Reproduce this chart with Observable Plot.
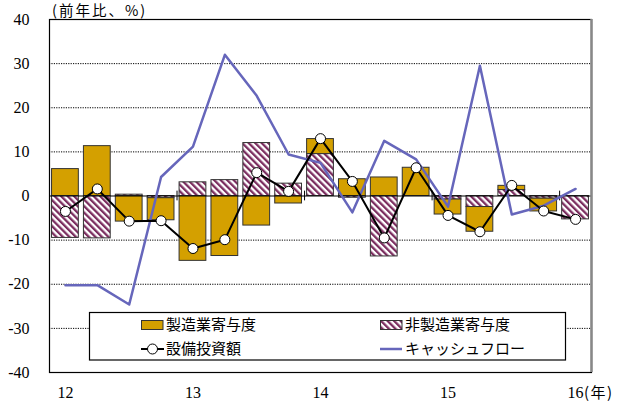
<!DOCTYPE html>
<html><head><meta charset="utf-8">
<script src="https://cdn.jsdelivr.net/npm/d3@7"></script>
<script src="https://cdn.jsdelivr.net/npm/@observablehq/plot@0.6"></script>
<style>body{margin:0;background:#fff} #chart svg{display:block}</style>
</head><body>
<svg width="0" height="0" style="position:absolute"><defs>
<pattern id="hatch" patternUnits="userSpaceOnUse" width="4.6" height="4.6" patternTransform="rotate(-45)">
<rect width="4.6" height="4.6" fill="#fff"/><rect width="2.3" height="4.6" fill="#7b2d5f"/></pattern></defs></svg>
<div id="chart"></div>
<script>
const quarters = ["2012Q1","2012Q2","2012Q3","2012Q4","2013Q1","2013Q2","2013Q3","2013Q4",
  "2014Q1","2014Q2","2014Q3","2014Q4","2015Q1","2015Q2","2015Q3","2015Q4","2016Q1"];
const tickLabels = ["12","","","","13","","","","14","","","","15","","","","16"];
const mfg     = [6.1, 11.3, -5.8, -5.0, -14.7, -13.6, -6.7, -1.7, 3.4, 3.8, 4.2, 6.4, -3.4, -5.6, 0.95, -2.9, 0];
const nonMfg  = [-9.5, -9.6, 0.3, -0.5, 3.1, 3.6, 12.0, 2.8, 9.5, -0.4, -13.7, 0, -0.8, -2.5, 1.35, -0.6, -5.3];
const capex   = [-3.5, 1.6, -5.7, -5.6, -11.9, -9.9, 5.3, 1.05, 13.0, 3.3, -9.5, 6.4, -4.4, -8.1, 2.4, -3.4, -5.3];
const cashFlow= [-20.2, -20.2, -24.6, 4.3, 11.2, 32.0, 22.7, 9.4, 7.5, -3.7, 12.5, 8.3, -2.4, 29.5, -4.2, -2.2, 1.6];
const yTicks = [-40,-30,-20,-10,0,10,20,30,40];
const gridValues = [-30,-20,-10,10,20,30];
const seriesNames = ["非製造業寄与度","製造業寄与度"];
const gold = "#d4a000", hatch = "url(#hatch)", cfColor = "#6666bb";

const barRows = quarters.flatMap((q,i)=>[
  {q, series: seriesNames[0], v: nonMfg[i]},
  {q, series: seriesNames[1], v: mfg[i]}
]);
const capexRows = quarters.map((q,i)=>({q, v: capex[i]}));
const cfRows = quarters.map((q,i)=>({q, v: cashFlow[i]}));
const yearStarts = quarters.filter((q,i)=> i>0 && q.endsWith("Q1"));

const W = 629, H = 401, mL = 49, mR = 38, mT = 19, mB = 29;
const step = (W - mL - mR) / quarters.length;

const chart = Plot.plot({
  width: W, height: H,
  marginLeft: mL, marginRight: mR, marginTop: mT, marginBottom: mB,
  style: {fontFamily: "'Liberation Serif', serif", fontSize: "16px", background: "white", color: "black"},
  x: {type: "band", domain: quarters, paddingInner: 0.16, paddingOuter: 0.08, round: false,
      tickSize: 0, tickPadding: 14, tickFormat: (d) => tickLabels[quarters.indexOf(d)], label: null},
  y: {domain: [-40, 40], ticks: yTicks, tickSize: 0, tickPadding: 20, tickFormat: d => String(d), label: null},
  color: {domain: [seriesNames[1], seriesNames[0]], range: [gold, hatch]},
  marks: [
    Plot.ruleY(gridValues, {stroke: "black", strokeWidth: 1, strokeDasharray: "1.2,1.2"}),
    Plot.barY(barRows, Plot.stackY({x: "q", y: "v", z: "series", fill: "series", stroke: "#333", strokeWidth: 1})),
    Plot.ruleY([0], {stroke: "black", strokeWidth: 1.2}),
    Plot.ruleX(yearStarts, {x: d => d, y1: -1.1, y2: 1.1, dx: -step/2, stroke: "black", strokeWidth: 1}),
    Plot.line(cfRows, {x: "q", y: "v", stroke: cfColor, strokeWidth: 2.5}),
    Plot.line(capexRows, {x: "q", y: "v", stroke: "black", strokeWidth: 2}),
    Plot.dot(capexRows, {x: "q", y: "v", r: 5, fill: "white", stroke: "black", strokeWidth: 1}),
    Plot.frame({stroke: "black", strokeWidth: 1.2})
  ]
});
document.getElementById("chart").appendChild(chart);

const svg = d3.select(chart);
const jp = "'Noto Sans CJK JP', sans-serif";
const extra = svg.append("g").attr("text-anchor", "start");
// right edge shadow
extra.append("line").attr("x1", W - mR + 0.5).attr("x2", W - mR + 0.5).attr("y1", mT).attr("y2", H - mB)
  .attr("stroke", "#888").attr("stroke-width", 2.5);
// unit label
extra.append("text").attr("x", 52).attr("y", 16).attr("font-family", jp).attr("font-size", 14.5)
  .attr("letter-spacing", 2).text("(前年比、%)");
// (年) suffix
const xs = chart.scale("x");
const lastX = xs.apply(quarters[quarters.length-1]) + xs.bandwidth/2;
extra.append("text").attr("x", lastX + 9).attr("y", 398).attr("font-family", jp).attr("font-size", 15)
  .attr("letter-spacing", 1.5).text("(年)");
// legend
const lg = extra.append("g");
lg.append("rect").attr("x", 89.5).attr("y", 312.5).attr("width", 476).attr("height", 47.5)
  .attr("fill", "white").attr("stroke", "black").attr("stroke-width", 1.2);
const row1 = 325, row2 = 349;
lg.append("rect").attr("x", 141.5).attr("y", row1 - 4.5).attr("width", 21.5).attr("height", 9)
  .attr("fill", gold).attr("stroke", "#333");
lg.append("rect").attr("x", 380.5).attr("y", row1 - 4.5).attr("width", 21.5).attr("height", 9)
  .attr("fill", hatch).attr("stroke", "#333");
lg.append("line").attr("x1", 141).attr("x2", 164).attr("y1", row2).attr("y2", row2)
  .attr("stroke", "black").attr("stroke-width", 2);
lg.append("circle").attr("cx", 152.5).attr("cy", row2).attr("r", 5)
  .attr("fill", "white").attr("stroke", "black");
lg.append("line").attr("x1", 380).attr("x2", 402).attr("y1", row2).attr("y2", row2)
  .attr("stroke", cfColor).attr("stroke-width", 2.5);
const lt = (x, y, s) => lg.append("text").attr("x", x).attr("y", y).attr("dy", "0.36em")
  .attr("font-family", jp).attr("font-size", 15).text(s);
lt(166, row1, "製造業寄与度");
lt(405, row1, "非製造業寄与度");
lt(166, row2, "設備投資額");
lt(405, row2, "キャッシュフロー");
</script>
</body></html>
